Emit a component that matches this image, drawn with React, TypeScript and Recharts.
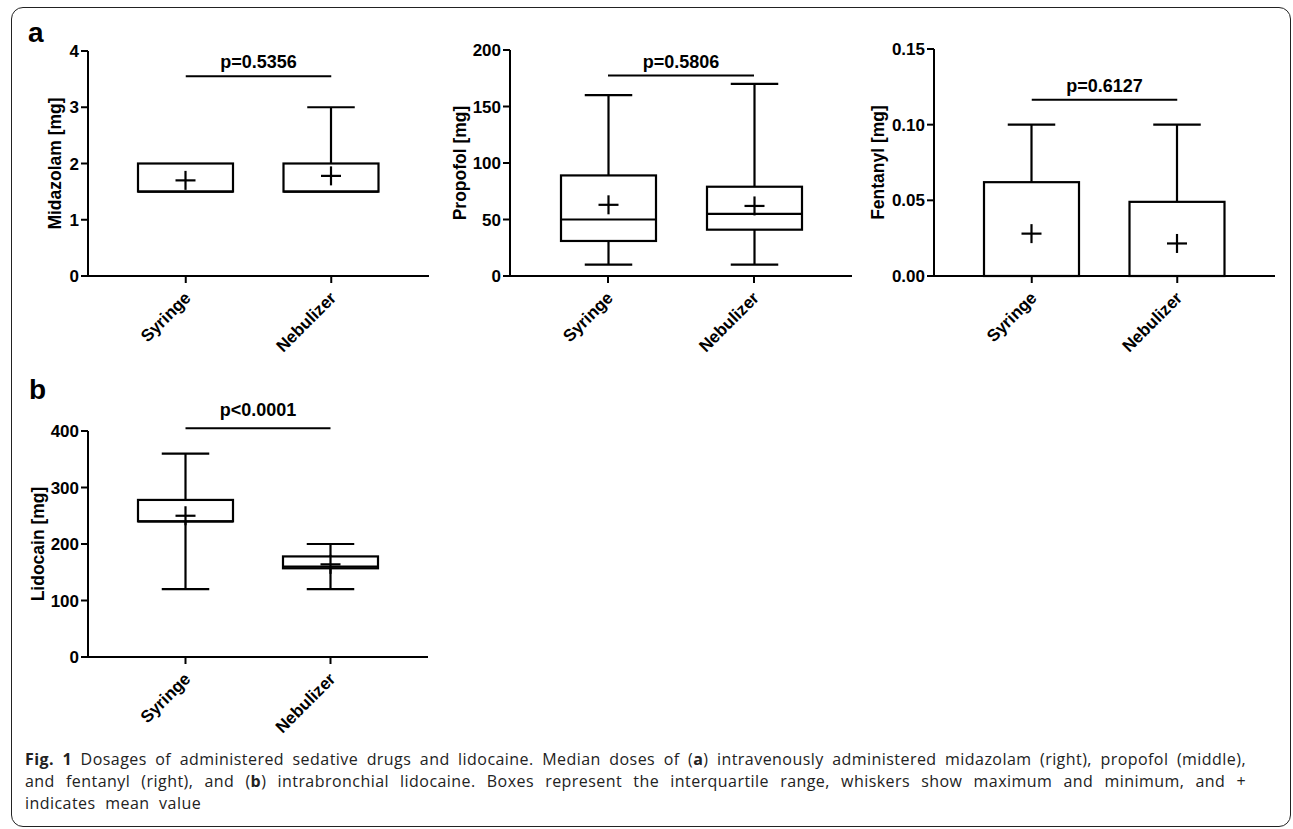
import React from 'react';
import { ComposedChart, Bar, XAxis, YAxis, ReferenceLine } from 'recharts';

const categories = ['Syringe', 'Nebulizer'];

// Midazolam [mg]
const midazolamMin = [1.5, 1.5];
const midazolamQ1 = [1.5, 1.5];
const midazolamMedian = [1.5, 1.5];
const midazolamQ3 = [2, 2];
const midazolamMax = [2, 3];
const midazolamMean = [1.7, 1.78];
const midazolamTicks = [0, 1, 2, 3, 4];
const midazolamPText = 'p=0.5356';
const midazolamPBar = 3.55;

// Propofol [mg]
const propofolMin = [10, 10];
const propofolQ1 = [31, 41];
const propofolMedian = [50, 55];
const propofolQ3 = [89, 79];
const propofolMax = [160, 170];
const propofolMean = [63, 62];
const propofolTicks = [0, 50, 100, 150, 200];
const propofolPText = 'p=0.5806';
const propofolPBar = 177.5;

// Fentanyl [mg]
const fentanylMin = [0, 0];
const fentanylQ1 = [0, 0];
const fentanylMedian = [0, 0];
const fentanylQ3 = [0.062, 0.049];
const fentanylMax = [0.1, 0.1];
const fentanylMean = [0.028, 0.0215];
const fentanylTicks = [0, 0.05, 0.1, 0.15];
const fentanylPText = 'p=0.6127';
const fentanylPBar = 0.1165;

// Lidocain [mg]
const lidocainMin = [120, 120];
const lidocainQ1 = [240, 157];
const lidocainMedian = [240, 160];
const lidocainQ3 = [278, 178];
const lidocainMax = [360, 200];
const lidocainMean = [250, 164];
const lidocainTicks = [0, 100, 200, 300, 400];
const lidocainPText = 'p<0.0001';
const lidocainPBar = 405;

const build = (
  min: number[], q1: number[], median: number[], q3: number[], max: number[], mean: number[]
) =>
  categories.map((name, i) => ({
    name,
    min: min[i],
    q1: q1[i],
    median: median[i],
    q3: q3[i],
    max: max[i],
    mean: mean[i],
  }));

const FONT = '"Liberation Sans", Arial, Helvetica, sans-serif';
const SW = 2.2;

const BoxShape = (props: any) => {
  const { x, y, width, height, payload } = props;
  const top = Math.min(y, y + height);
  const h = Math.abs(height);
  const { min, q1, median, q3, max, mean } = payload;
  const py = (v: number) => (max === min ? top : top + (h * (max - v)) / (max - min));
  const cx = x + width / 2;
  const cap = width * 0.25;
  const my = py(mean);
  return (
    <g stroke="#000" strokeWidth={SW} fill="none">
      {max > q3 && <line x1={cx} x2={cx} y1={py(max)} y2={py(q3)} />}
      {max > q3 && <line x1={cx - cap} x2={cx + cap} y1={py(max)} y2={py(max)} />}
      {min < q1 && <line x1={cx} x2={cx} y1={py(q1)} y2={py(min)} />}
      {min < q1 && <line x1={cx - cap} x2={cx + cap} y1={py(min)} y2={py(min)} />}
      <rect x={x} y={py(q3)} width={width} height={Math.max(0, py(q1) - py(q3))} fill="#fff" />
      <line x1={x} x2={x + width} y1={py(median)} y2={py(median)} />
      <line x1={cx - 10} x2={cx + 10} y1={my} y2={my} />
      <line x1={cx} x2={cx} y1={my - 9.5} y2={my + 9.5} />
    </g>
  );
};

const XTick = (props: any) => {
  const { x, y, payload } = props;
  return (
    <g transform={`translate(${x + 6},${y + 14})`}>
      <text
        textAnchor="end"
        transform="rotate(-45)"
        fill="#000"
        fontSize={17}
        fontWeight={700}
        fontFamily={FONT}
      >
        {payload.value}
      </text>
    </g>
  );
};

type PanelProps = {
  left: number;
  top: number;
  width: number;
  marginTop: number;
  plotHeight: number;
  data: any[];
  ticks: number[];
  yLabel: string;
  labelOffset: number;
  pText: string;
  pBar: number;
  pGap: number;
  fmt?: (v: number) => string;
};

const BoxPanel = (p: PanelProps) => {
  const xAxisH = 82;
  const height = p.marginTop + p.plotHeight + xAxisH;
  const yTop = p.ticks[p.ticks.length - 1];
  return (
    <div style={{ position: 'absolute', left: p.left, top: p.top }}>
      <ComposedChart
        width={p.width}
        height={height}
        data={p.data}
        margin={{ top: p.marginTop, right: 11, bottom: 0, left: 0 }}
        barCategoryGap={0}
      >
        <XAxis
          dataKey="name"
          type="category"
          padding={{ left: 25, right: 25 }}
          tickSize={7}
          axisLine={{ stroke: '#000', strokeWidth: 2 }}
          tickLine={{ stroke: '#000', strokeWidth: 2 }}
          tick={<XTick />}
          interval={0}
          height={xAxisH}
        />
        <YAxis
          type="number"
          domain={[0, yTop]}
          ticks={p.ticks}
          interval={0}
          width={88}
          tickSize={7}
          tickFormatter={p.fmt}
          axisLine={{ stroke: '#000', strokeWidth: 2 }}
          tickLine={{ stroke: '#000', strokeWidth: 2 }}
          tick={{ fill: '#000', fontSize: 17, fontWeight: 700, fontFamily: FONT }}
          label={(lp: any) => {
            const vb = lp.viewBox || { x: 0, y: p.marginTop, width: 88, height: p.plotHeight };
            const bx = vb.x + vb.width - p.labelOffset;
            const by = vb.y + vb.height / 2;
            return (
              <text
                x={bx}
                y={by}
                transform={`rotate(-90, ${bx}, ${by})`}
                textAnchor="middle"
                fill="#000"
                fontSize={17.5}
                fontWeight={700}
                fontFamily={FONT}
              >
                {p.yLabel}
              </text>
            );
          }}
        />
        <Bar
          dataKey={(d: any) => [d.min, d.max]}
          barSize={95}
          shape={<BoxShape />}
          isAnimationActive={false}
        />
        <ReferenceLine
          segment={[
            { x: categories[0], y: p.pBar },
            { x: categories[1], y: p.pBar },
          ]}
          stroke="#000"
          strokeWidth={2}
          ifOverflow="visible"
          label={(lp: any) => {
            const vb = lp.viewBox || {};
            const cx = (vb.x || 0) + (vb.width || 0) / 2;
            return (
              <text
                x={cx}
                y={(vb.y || 0) - p.pGap}
                textAnchor="middle"
                fill="#000"
                fontSize={18}
                fontWeight={700}
                fontFamily={FONT}
              >
                {p.pText}
              </text>
            );
          }}
        />
      </ComposedChart>
    </div>
  );
};

const captionLine: React.CSSProperties = {
  position: 'absolute',
  left: 25,
  width: 1221,
  fontFamily: '"Open Sans", "Noto Sans", sans-serif',
  fontSize: 16,
  lineHeight: '22px',
  letterSpacing: 0.45,
  color: '#222',
  whiteSpace: 'nowrap',
  textAlign: 'justify',
  textAlignLast: 'justify',
};

export default function App() {
  return (
    <div
      style={{
        position: 'absolute',
        left: 0,
        top: 0,
        width: 1293,
        height: 829,
        background: '#fff',
        fontFamily: FONT,
      }}
    >
      <div
        style={{
          position: 'absolute',
          left: 11,
          top: 7,
          width: 1280,
          height: 820,
          border: '1.5px solid #222',
          borderRadius: 12,
          boxSizing: 'border-box',
        }}
      />
      <svg style={{ position: 'absolute', left: 0, top: 0 }} width={1293} height={829}>
        <text x={28} y={42} fontSize={28} fontWeight={700} fontFamily={FONT} fill="#000">
          a
        </text>
        <text x={29} y={399} fontSize={28} fontWeight={700} fontFamily={FONT} fill="#000">
          b
        </text>
      </svg>

      <BoxPanel
        left={0}
        top={0}
        width={440}
        marginTop={51}
        plotHeight={225}
        data={build(midazolamMin, midazolamQ1, midazolamMedian, midazolamQ3, midazolamMax, midazolamMean)}
        ticks={midazolamTicks}
        yLabel="Midazolam [mg]"
        labelOffset={27}
        pText={midazolamPText}
        pBar={midazolamPBar}
        pGap={8.5}
      />
      <BoxPanel
        left={422}
        top={0}
        width={441}
        marginTop={50}
        plotHeight={226}
        data={build(propofolMin, propofolQ1, propofolMedian, propofolQ3, propofolMax, propofolMean)}
        ticks={propofolTicks}
        yLabel="Propofol [mg]"
        labelOffset={44}
        pText={propofolPText}
        pBar={propofolPBar}
        pGap={7.5}
      />
      <BoxPanel
        left={846}
        top={0}
        width={440}
        marginTop={49}
        plotHeight={227}
        data={build(fentanylMin, fentanylQ1, fentanylMedian, fentanylQ3, fentanylMax, fentanylMean)}
        ticks={fentanylTicks}
        yLabel="Fentanyl [mg]"
        labelOffset={50}
        pText={fentanylPText}
        pBar={fentanylPBar}
        pGap={7.5}
        fmt={(v: number) => v.toFixed(2)}
      />
      <BoxPanel
        left={0}
        top={380}
        width={439}
        marginTop={51}
        plotHeight={226}
        data={build(lidocainMin, lidocainQ1, lidocainMedian, lidocainQ3, lidocainMax, lidocainMean)}
        ticks={lidocainTicks}
        yLabel="Lidocain [mg]"
        labelOffset={44}
        pText={lidocainPText}
        pBar={lidocainPBar}
        pGap={12.5}
      />

      <div style={{ ...captionLine, top: 748 }}>
        <b>Fig. 1</b> Dosages of administered sedative drugs and lidocaine. Median doses of (<b>a</b>) intravenously administered midazolam (right), propofol (middle),
      </div>
      <div style={{ ...captionLine, top: 770 }}>
        and fentanyl (right), and (<b>b</b>) intrabronchial lidocaine. Boxes represent the interquartile range, whiskers show maximum and minimum, and +
      </div>
      <div style={{ ...captionLine, top: 792, textAlign: 'left', textAlignLast: 'left', wordSpacing: 5 }}>
        indicates mean value
      </div>
    </div>
  );
}
